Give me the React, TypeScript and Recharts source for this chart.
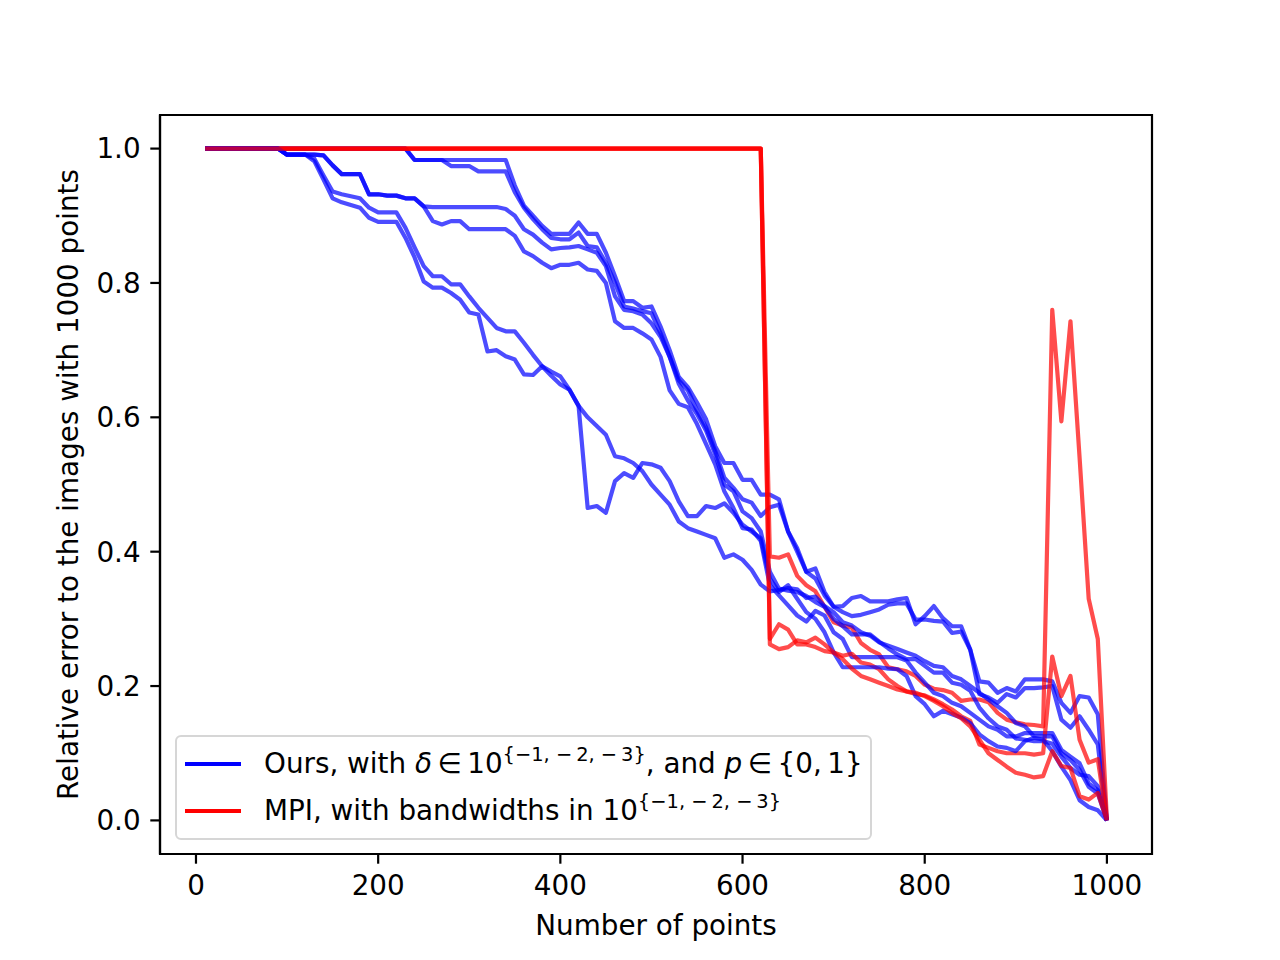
import {
  LineChart, Line, XAxis, YAxis, Legend, ReferenceArea,
} from 'recharts';

// x positions: number of points
const xs = [
  10, 20, 30, 40, 50, 60, 70, 80, 90, 100,
  110, 120, 130, 140, 150, 160, 170, 180, 190, 200,
  210, 220, 230, 240, 250, 260, 270, 280, 290, 300,
  310, 320, 330, 340, 350, 360, 370, 380, 390, 400,
  410, 420, 430, 440, 450, 460, 470, 480, 490, 500,
  510, 520, 530, 540, 550, 560, 570, 580, 590, 600,
  610, 620, 630, 640, 650, 660, 670, 680, 690, 700,
  710, 720, 730, 740, 750, 760, 770, 780, 790, 800,
  810, 820, 830, 840, 850, 860, 870, 880, 890, 900,
  910, 920, 930, 940, 950, 960, 970, 980, 990, 1000,
];

// "Ours" runs (blue)
const oursA1 = [
  1, 1, 1, 1, 1, 1, 1, 1, 1, 1,
  1, 1, 1, 1, 1, 1, 1, 1, 1, 1,
  1, 1, 1, 0.983, 0.983, 0.983, 0.983, 0.983, 0.983, 0.983,
  0.983, 0.983, 0.983, 0.983, 0.945, 0.915, 0.9, 0.885, 0.873, 0.873,
  0.873, 0.89, 0.873, 0.873, 0.845, 0.81, 0.773, 0.773, 0.763, 0.765,
  0.735, 0.7, 0.66, 0.645, 0.622, 0.597, 0.557, 0.532, 0.532, 0.507,
  0.507, 0.485, 0.485, 0.478, 0.43, 0.405, 0.37, 0.375, 0.34, 0.318,
  0.319, 0.331, 0.334, 0.326, 0.326, 0.326, 0.329, 0.331, 0.292, 0.304,
  0.319, 0.301, 0.289, 0.289, 0.254, 0.207, 0.205, 0.19, 0.197, 0.192,
  0.21, 0.21, 0.21, 0.207, 0.175, 0.16, 0.185, 0.183, 0.158, 0,
];
const oursA2 = [
  1, 1, 1, 1, 1, 1, 1, 1, 1, 1,
  1, 1, 1, 1, 1, 1, 1, 1, 1, 1,
  1, 1, 1, 0.983, 0.983, 0.983, 0.983, 0.974, 0.974, 0.974,
  0.966, 0.966, 0.966, 0.966, 0.935, 0.912, 0.895, 0.88, 0.867, 0.865,
  0.865, 0.875, 0.855, 0.853, 0.83, 0.8, 0.765, 0.762, 0.758, 0.755,
  0.725, 0.69, 0.655, 0.64, 0.61, 0.585, 0.55, 0.51, 0.495, 0.478,
  0.473, 0.453, 0.466, 0.47, 0.43, 0.4, 0.37, 0.36, 0.335, 0.318,
  0.31, 0.304, 0.306, 0.31, 0.314, 0.321, 0.323, 0.323, 0.299, 0.299,
  0.297, 0.296, 0.279, 0.281, 0.254, 0.188, 0.183, 0.175, 0.188, 0.183,
  0.197, 0.197, 0.198, 0.2, 0.15, 0.138, 0.155, 0.135, 0.113, 0,
];
const oursB1 = [
  1, 1, 1, 1, 1, 1, 1, 1, 1, 0.991,
  0.991, 0.991, 0.991, 0.99, 0.975, 0.962, 0.962, 0.962, 0.932, 0.932,
  0.93, 0.93, 0.926, 0.926, 0.914, 0.913, 0.913, 0.913, 0.913, 0.913,
  0.913, 0.913, 0.913, 0.91, 0.9, 0.88, 0.872, 0.86, 0.85, 0.852,
  0.853, 0.855, 0.85, 0.845, 0.825, 0.78, 0.76, 0.758, 0.753, 0.74,
  0.72, 0.69, 0.65, 0.625, 0.605, 0.58, 0.545, 0.5, 0.49, 0.46,
  0.45, 0.43, 0.37, 0.345, 0.342, 0.34, 0.334, 0.325, 0.318, 0.3,
  0.289, 0.277, 0.277, 0.277, 0.266, 0.256, 0.247, 0.24, 0.24, 0.23,
  0.22, 0.22, 0.205, 0.202, 0.193, 0.168, 0.152, 0.14, 0.135, 0.122,
  0.12, 0.118, 0.118, 0.114, 0.095, 0.078, 0.068, 0.066, 0.051, 0,
];
const oursB2 = [
  1, 1, 1, 1, 1, 1, 1, 1, 1, 0.991,
  0.991, 0.991, 0.991, 0.99, 0.975, 0.962, 0.962, 0.962, 0.932, 0.932,
  0.93, 0.93, 0.926, 0.926, 0.914, 0.892, 0.887, 0.892, 0.892, 0.88,
  0.88, 0.88, 0.88, 0.88, 0.87, 0.847, 0.84, 0.83, 0.822, 0.827,
  0.827, 0.83, 0.82, 0.818, 0.8, 0.743, 0.733, 0.733, 0.725, 0.716,
  0.69, 0.64, 0.62, 0.615, 0.59, 0.56, 0.53, 0.49, 0.465, 0.435,
  0.433, 0.416, 0.35, 0.335, 0.32, 0.305, 0.296, 0.312, 0.305, 0.28,
  0.27, 0.243, 0.243, 0.243, 0.243, 0.243, 0.243, 0.238, 0.22, 0.205,
  0.19, 0.185, 0.175, 0.17, 0.16, 0.15, 0.14, 0.135, 0.125, 0.125,
  0.13, 0.13, 0.13, 0.13, 0.105, 0.095, 0.085, 0.055, 0.045, 0,
];
const oursC1 = [
  1, 1, 1, 1, 1, 1, 1, 1, 1, 0.991,
  0.991, 0.991, 0.981, 0.954, 0.926, 0.92, 0.916, 0.912, 0.897, 0.891,
  0.891, 0.891, 0.867, 0.838, 0.802, 0.793, 0.793, 0.785, 0.775, 0.756,
  0.753, 0.698, 0.7, 0.691, 0.686, 0.664, 0.663, 0.676, 0.662, 0.649,
  0.641, 0.617, 0.465, 0.468, 0.458, 0.505, 0.517, 0.51, 0.532, 0.53,
  0.525, 0.505, 0.475, 0.453, 0.453, 0.468, 0.465, 0.472, 0.458, 0.44,
  0.43, 0.42, 0.36, 0.34, 0.35, 0.33, 0.31, 0.3, 0.28, 0.25,
  0.228, 0.228, 0.228, 0.228, 0.228, 0.226, 0.225, 0.215, 0.185, 0.173,
  0.155, 0.163, 0.158, 0.153, 0.145, 0.128, 0.118, 0.11, 0.108, 0.103,
  0.118, 0.123, 0.12, 0.103, 0.08, 0.06, 0.03, 0.02, 0.015, 0,
];
const oursC2 = [
  1, 1, 1, 1, 1, 1, 1, 1, 1, 0.991,
  0.991, 0.991, 0.985, 0.96, 0.936, 0.932, 0.929, 0.926, 0.912, 0.905,
  0.905, 0.905, 0.882, 0.853, 0.825, 0.81, 0.81, 0.798, 0.798, 0.78,
  0.763, 0.748, 0.733, 0.728, 0.728, 0.711, 0.693, 0.676, 0.668, 0.661,
  0.641, 0.617, 0.6, 0.587, 0.574, 0.542, 0.539, 0.532, 0.52, 0.5,
  0.485, 0.47, 0.445, 0.435, 0.43, 0.425, 0.42, 0.391, 0.396, 0.388,
  0.373, 0.351, 0.341, 0.343, 0.346, 0.344, 0.331, 0.333, 0.319, 0.31,
  0.295, 0.29, 0.28, 0.275, 0.265, 0.26, 0.255, 0.25, 0.245, 0.237,
  0.23, 0.228, 0.215, 0.21, 0.2, 0.19, 0.18, 0.17, 0.16, 0.145,
  0.14, 0.125, 0.125, 0.125, 0.1, 0.09, 0.075, 0.05, 0.04, 0,
];

// MPI runs (red)
const mpiA = [
  1, 1, 1, 1, 1, 1, 1, 1, 1, 1,
  1, 1, 1, 1, 1, 1, 1, 1, 1, 1,
  1, 1, 1, 1, 1, 1, 1, 1, 1, 1,
  1, 1, 1, 1, 1, 1, 1, 1, 1, 1,
  1, 1, 1, 1, 1, 1, 1, 1, 1, 1,
  1, 1, 1, 1, 1, 1, 1, 1, 1, 1,
  1, 1, 0.393, 0.391, 0.396, 0.364, 0.35, 0.341, 0.318, 0.295,
  0.29, 0.287, 0.264, 0.254, 0.247, 0.228, 0.225, 0.222, 0.215, 0.202,
  0.196, 0.194, 0.19, 0.178, 0.18, 0.18, 0.176, 0.16, 0.15, 0.146,
  0.143, 0.142, 0.14, 0.76, 0.594, 0.743, 0.54, 0.33, 0.27, 0,
];
const mpiB = [
  1, 1, 1, 1, 1, 1, 1, 1, 1, 1,
  1, 1, 1, 1, 1, 1, 1, 1, 1, 1,
  1, 1, 1, 1, 1, 1, 1, 1, 1, 1,
  1, 1, 1, 1, 1, 1, 1, 1, 1, 1,
  1, 1, 1, 1, 1, 1, 1, 1, 1, 1,
  1, 1, 1, 1, 1, 1, 1, 1, 1, 1,
  1, 1, 0.27, 0.292, 0.284, 0.262, 0.262, 0.258, 0.252, 0.25,
  0.245, 0.248, 0.235, 0.232, 0.225, 0.21, 0.2, 0.192, 0.188, 0.186,
  0.18, 0.173, 0.165, 0.155, 0.148, 0.113, 0.108, 0.103, 0.1, 0.1,
  0.1, 0.098, 0.1, 0.244, 0.185, 0.215, 0.12, 0.086, 0.091, 0,
];
const mpiC = [
  1, 1, 1, 1, 1, 1, 1, 1, 1, 1,
  1, 1, 1, 1, 1, 1, 1, 1, 1, 1,
  1, 1, 1, 1, 1, 1, 1, 1, 1, 1,
  1, 1, 1, 1, 1, 1, 1, 1, 1, 1,
  1, 1, 1, 1, 1, 1, 1, 1, 1, 1,
  1, 1, 1, 1, 1, 1, 1, 1, 1, 1,
  1, 1, 0.262, 0.255, 0.258, 0.268, 0.265, 0.272, 0.262, 0.25,
  0.24, 0.226, 0.215, 0.21, 0.205, 0.2, 0.195, 0.192, 0.19, 0.185,
  0.178, 0.17, 0.16, 0.152, 0.14, 0.12, 0.1, 0.09, 0.08, 0.071,
  0.068, 0.064, 0.066, 0.103, 0.081, 0.078, 0.036, 0.031, 0.041, 0,
];

const xTicks = [0, 200, 400, 600, 800, 1000];
const yTicks = [0, 0.2, 0.4, 0.6, 0.8, 1.0];

const BLUE = '#0000ff';
const RED = '#ff0000';

// drawing order follows the original: two "ours" runs, then one MPI run, per setting
const seriesOrder = [
  { key: 'a1', color: BLUE }, { key: 'a2', color: BLUE }, { key: 'ma', color: RED },
  { key: 'b1', color: BLUE }, { key: 'b2', color: BLUE }, { key: 'mb', color: RED },
  { key: 'c1', color: BLUE }, { key: 'c2', color: BLUE }, { key: 'mc', color: RED },
];

const data = xs.map((x, i) => ({
  x,
  a1: oursA1[i], a2: oursA2[i], b1: oursB1[i], b2: oursB2[i],
  c1: oursC1[i], c2: oursC2[i],
  ma: mpiA[i], mb: mpiB[i], mc: mpiC[i],
}));

const FONT = 'DejaVu Sans, sans-serif';
const FS = 27.8;

function MplLegend() {
  const handle = (color: string) => (
    <svg width={60} height={10} style={{ display: 'block' }}>
      <line x1={2} y1={5} x2={58} y2={5} stroke={color} strokeWidth={4.2} />
    </svg>
  );
  const sup: React.CSSProperties = { fontSize: '0.7em', position: 'relative', top: '-0.6em' };
  const row: React.CSSProperties = {
    position: 'absolute', left: 6, height: 40, display: 'flex', alignItems: 'center', whiteSpace: 'nowrap',
  };
  return (
    <div style={{
      position: 'relative', width: 697, height: 105, boxSizing: 'border-box',
      border: '2px solid #d6d6d6', borderRadius: 6, background: 'rgba(255,255,255,0.8)',
      fontFamily: FONT, fontSize: FS, color: '#000', lineHeight: 1,
    }}>
      <div style={{ ...row, top: 7 }}>
        {handle(BLUE)}
        <span style={{ marginLeft: 21 }}>
          Ours, with <i>δ</i>{'\u2009∈\u200910'}<span style={sup}>{'{−1, −\u20092, −\u20093}'}</span>, and <i>p</i>{'\u2009∈\u2009{0,\u20091}'}
        </span>
      </div>
      <div style={{ ...row, top: 54 }}>
        {handle(RED)}
        <span style={{ marginLeft: 21 }}>
          MPI, with bandwidths in 10<span style={sup}>{'{−1, −\u20092, −\u20093}'}</span>
        </span>
      </div>
    </div>
  );
}

export default function App() {
  const tickStyle = { fill: '#000', fontSize: FS, fontFamily: FONT };
  const axisStroke = { stroke: '#000', strokeWidth: 2.2 };
  return (
    <div style={{ position: 'absolute', left: 0, top: 0, width: 1280, height: 960, background: '#fff' }}>
      <LineChart
        width={1280}
        height={960}
        data={data}
        margin={{ top: 115, right: 128, bottom: 66, left: 100 }}
      >
        <XAxis
          dataKey="x"
          type="number"
          domain={[-39.5, 1049.5]}
          ticks={xTicks}
          allowDataOverflow
          height={40}
          tick={tickStyle}
          tickSize={9.7}
          tickMargin={12}
          axisLine={axisStroke}
          tickLine={axisStroke}
          label={({ viewBox }: any) => (
            <text
              x={viewBox.x + viewBox.width / 2}
              y={viewBox.y + 81}
              textAnchor="middle"
              fontFamily={FONT}
              fontSize={FS}
              fill="#000"
            >
              Number of points
            </text>
          )}
        />
        <YAxis
          type="number"
          domain={[-0.05, 1.05]}
          ticks={yTicks}
          allowDataOverflow
          width={60}
          tick={tickStyle}
          tickSize={9.7}
          tickMargin={9.7}
          tickFormatter={(v: number) => v.toFixed(1)}
          axisLine={axisStroke}
          tickLine={axisStroke}
          label={({ viewBox }: any) => {
            const cx = viewBox.x + viewBox.width - 82;
            const cy = viewBox.y + viewBox.height / 2;
            return (
              <text
                x={cx}
                y={cy}
                transform={`rotate(-90 ${cx} ${cy})`}
                textAnchor="middle"
                fontFamily={FONT}
                fontSize={FS}
                fill="#000"
              >
                Relative error to the images with 1000 points
              </text>
            );
          }}
        />
        <ReferenceArea
          x1={-39.5}
          x2={1049.5}
          y1={-0.05}
          y2={1.05}
          fill="none"
          stroke="#000"
          strokeWidth={2.2}
          ifOverflow="visible"
        />
        {seriesOrder.map((s) => (
          <Line
            key={s.key}
            dataKey={s.key}
            type="linear"
            stroke={s.color}
            strokeOpacity={0.7}
            strokeWidth={4.2}
            strokeLinejoin="round"
            dot={false}
            activeDot={false}
            isAnimationActive={false}
          />
        ))}
        <Legend
          layout="horizontal"
          verticalAlign="middle"
          align="center"
          wrapperStyle={{ left: 175, top: 735, width: 697 }}
          content={() => <MplLegend />}
        />
      </LineChart>
    </div>
  );
}
